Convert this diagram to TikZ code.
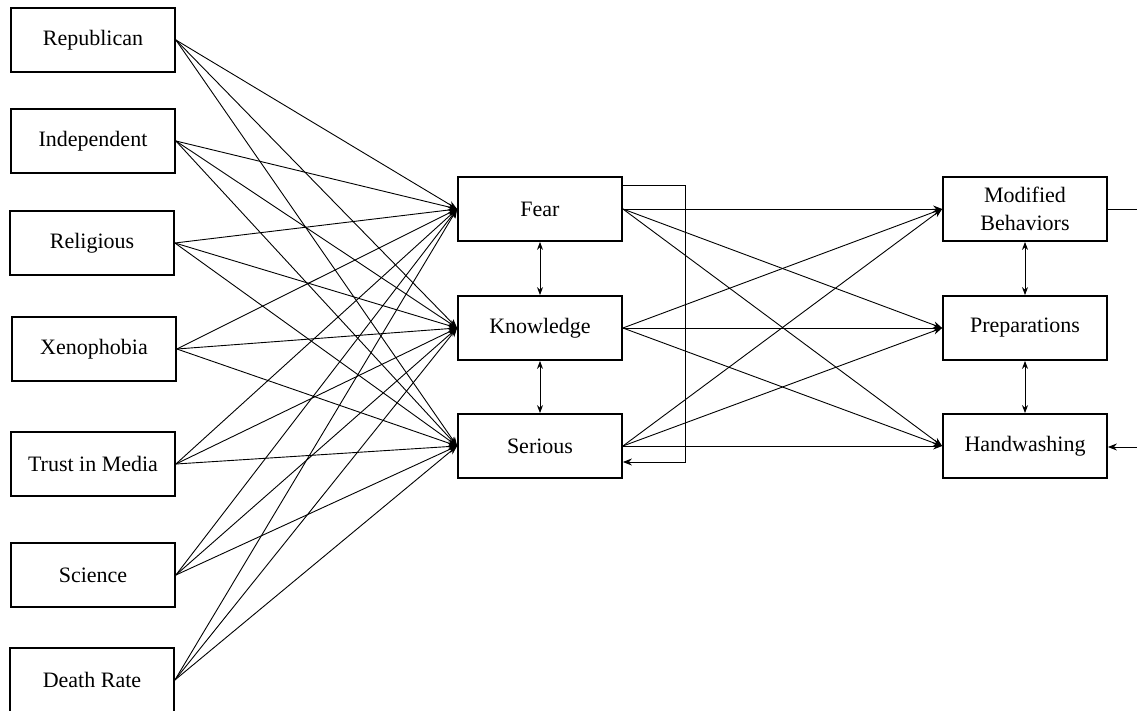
\documentclass[tikz,border=0pt]{standalone}
\usepackage{fontspec}
\setmainfont{Liberation Serif}
\usetikzlibrary{arrows.meta}
\begin{document}
\begin{tikzpicture}[x=1pt,y=-1pt,
  box/.style={draw, line width=1.8pt, minimum width=164pt, minimum height=64pt, inner sep=2pt, align=center, font=\fontsize{22}{28}\selectfont},
  link/.style={line width=0.9pt, -{Stealth[length=9pt,width=7pt]}},
  plain/.style={line width=0.9pt},
  both/.style={line width=0.9pt, {Stealth[length=8pt,width=6pt]}-{Stealth[length=8pt,width=6pt]}}]
\useasboundingbox[fill=white] (0,0) rectangle (1137,711);
% left column
\node[box] (rep) at (93,40) {Republican};
\node[box] (ind) at (93,141) {Independent};
\node[box] (rel) at (92,243) {Religious};
\node[box] (xen) at (94,349) {Xenophobia};
\node[box] (tru) at (93,464) {Trust in Media};
\node[box] (sci) at (93,575) {Science};
\node[box] (dea) at (92,680) {Death Rate};
% middle column
\node[box] (fear) at (540,209) {Fear};
\node[box] (know) at (540,328) {Knowledge};
\node[box] (ser) at (540,446) {Serious};
% right column
\node[box] (mod) at (1025,209) {Modified\\Behaviors};
\node[box] (prep) at (1025,328) {Preparations};
\node[box] (hand) at (1025,446) {Handwashing};
% left to middle
\foreach \s in {rep,ind,rel,xen,tru,sci,dea}{
  \foreach \t in {fear,know,ser}{
    \draw[link] (\s.east) -- (\t.west);
  }
}
% middle to right
\foreach \s in {fear,know,ser}{
  \foreach \t in {mod,prep,hand}{
    \draw[link] (\s.east) -- (\t.west);
  }
}
% vertical double arrows
\draw[both] (fear.south) -- (know.north);
\draw[both] (know.south) -- (ser.north);
\draw[both] (mod.south) -- (prep.north);
\draw[both] (prep.south) -- (hand.north);
% bracket from Fear to Serious
\coordinate (b1) at (685,185);
\coordinate (b2) at (685,462);
\draw[link] (fear.east |- b1) -- (b1) -- (b2) -- (ser.east |- b2);
% right edge
\coordinate (r1) at (1137,209);
\coordinate (r2) at (1137,447);
\draw[plain] (mod.east) -- (r1);
\draw[link] (r2) -- (hand.east |- r2);
\end{tikzpicture}
\end{document}
